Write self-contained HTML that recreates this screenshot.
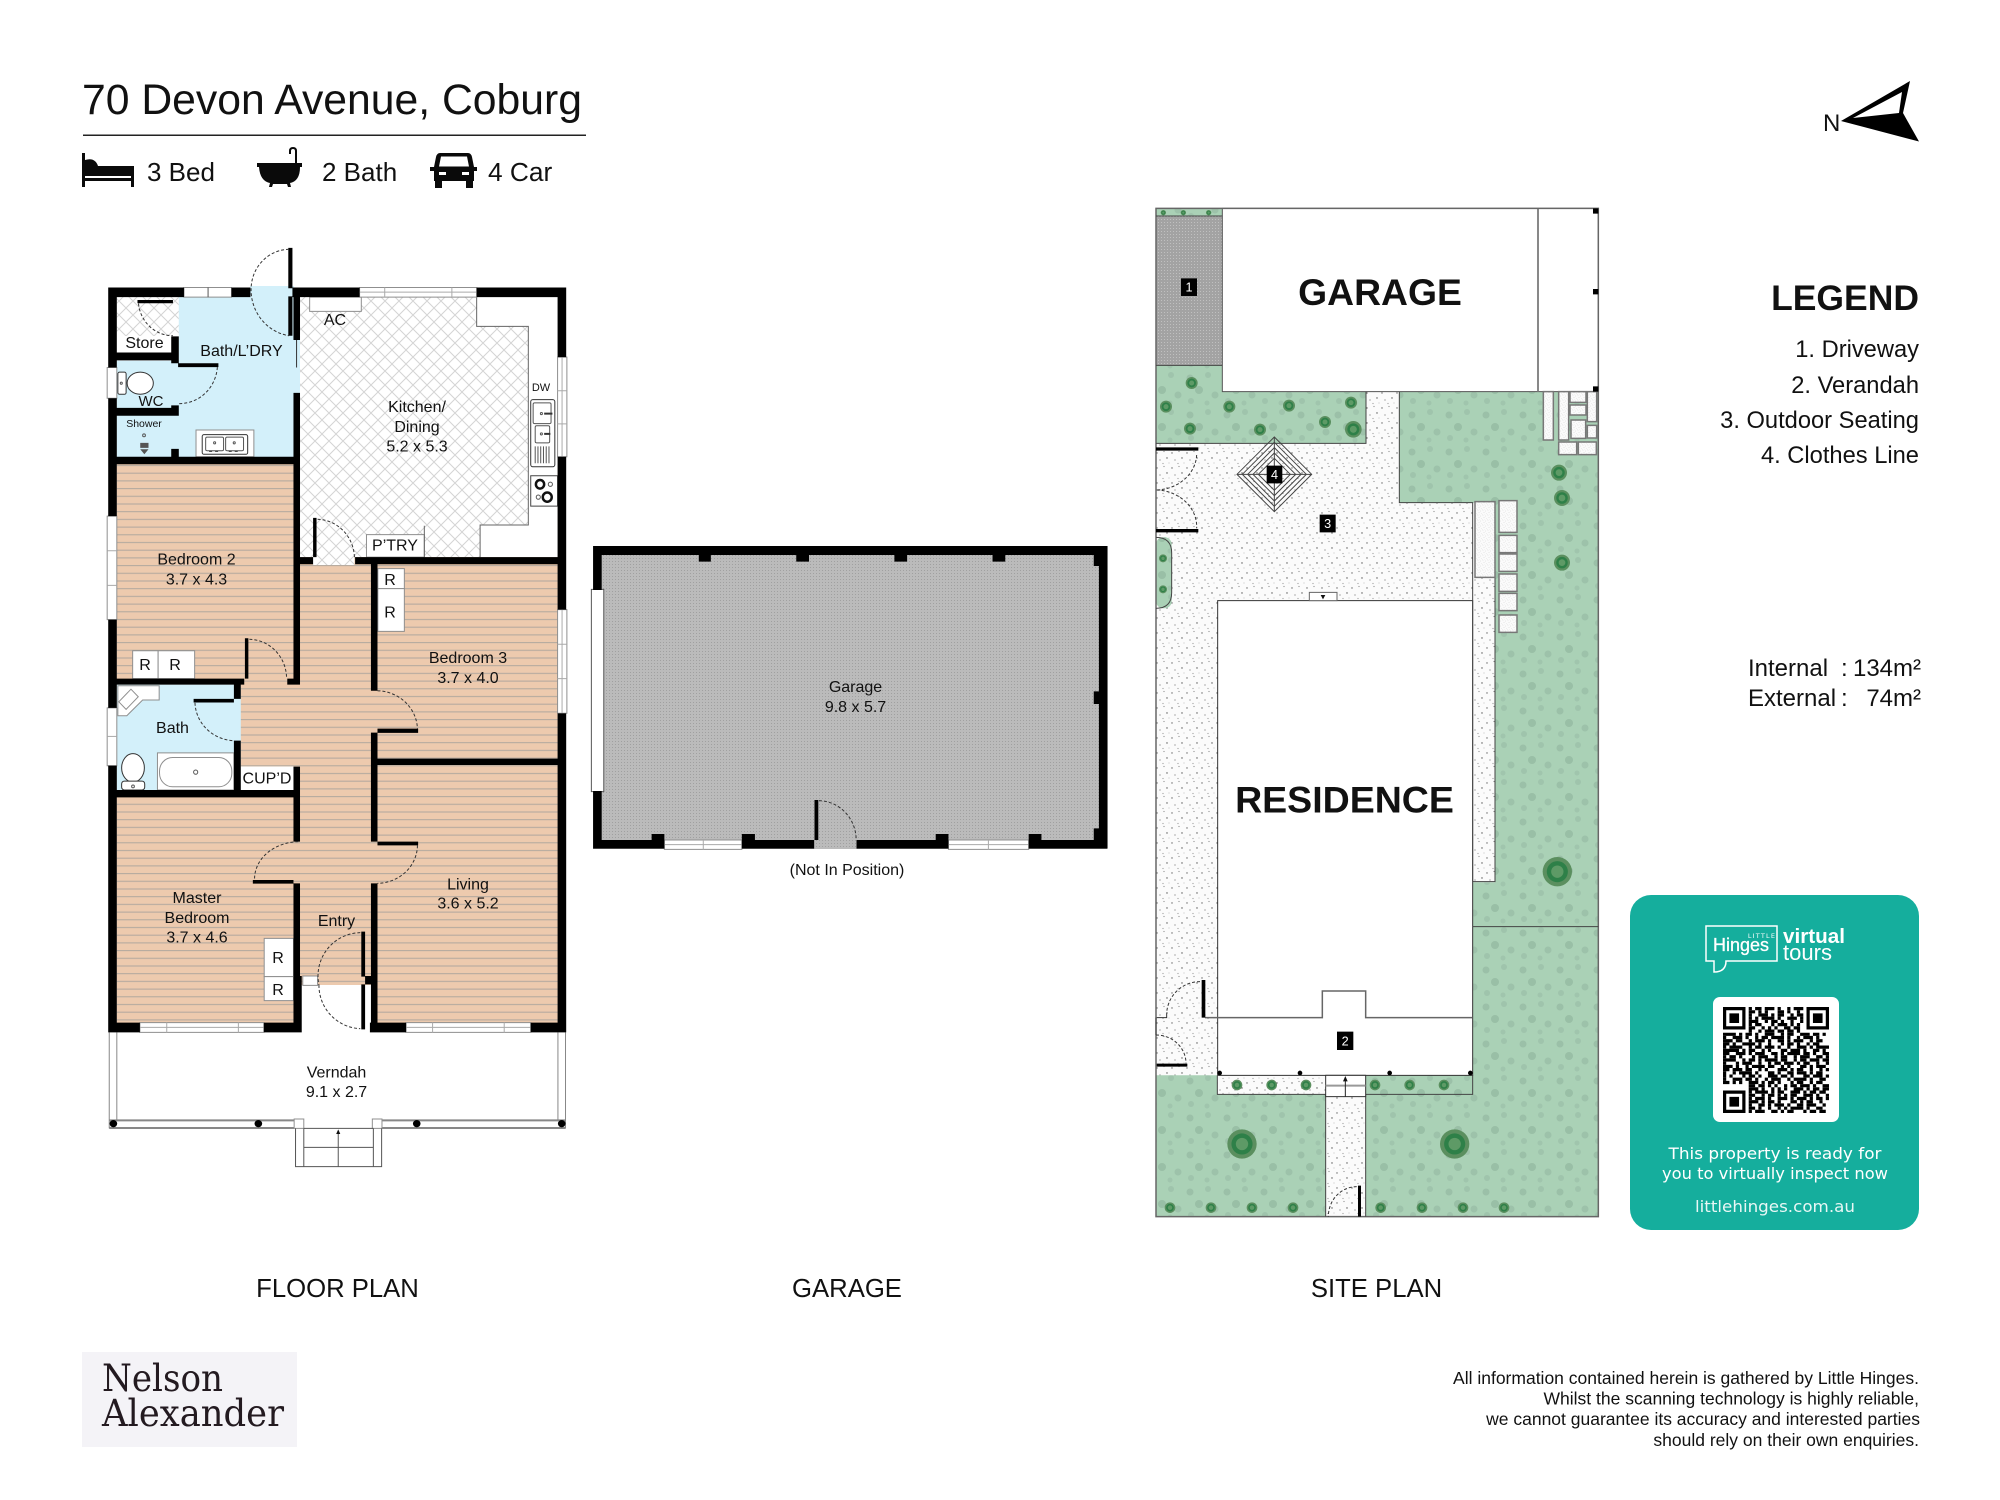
<!DOCTYPE html>
<html><head><meta charset="utf-8"><style>
html,body{margin:0;padding:0;background:#fff}
svg{display:block}
text{font-family:"Liberation Sans",sans-serif;fill:#111}
.ns path,.ns rect,.ns line,.ns ellipse,.ns circle,.ns polygon{vector-effect:non-scaling-stroke}
.l{font-size:16px;text-anchor:middle}
.d{fill:none;stroke:#333;stroke-width:1;stroke-dasharray:3 2}
.w{fill:#fff;stroke:#8f8f8f;stroke-width:1}
.k{fill:none;stroke:#555;stroke-width:1}
.m{font-size:25.700px;text-anchor:middle}
.r{text-anchor:end}
.t{fill:#fff;font-family:"DejaVu Sans",sans-serif;text-anchor:middle}
.h{fill:#fff;stroke:#fff;stroke-width:.3}
.n{fill:#fff;font-size:38px;text-anchor:middle}
</style></head><body>
<svg xmlns="http://www.w3.org/2000/svg" width="2000" height="1500" viewBox="0 0 2000 1500">
<defs>
<pattern id="wood" patternUnits="userSpaceOnUse" width="8" height="7.7"><rect width="8" height="7.7" fill="#EDCAAE"/><rect y="3" width="8" height="1" fill="#B0A79E"/></pattern>
<pattern id="tile" patternUnits="userSpaceOnUse" width="14" height="14"><rect width="14" height="14" fill="#fff"/><path d="M0 0L14 14M14 0L0 14" stroke="#D4D4D4" stroke-width="1"/></pattern>
<pattern id="gar" patternUnits="userSpaceOnUse" width="3" height="3"><rect width="3" height="3" fill="#BBBBBB"/><rect width="1" height="1" fill="#A0A0A0"/></pattern>
<pattern id="grass" patternUnits="userSpaceOnUse" width="37" height="37"><rect width="37" height="37" fill="#AAD1B6"/><circle cx="6" cy="8" r="3.500" fill="#9BC0A8"/><circle cx="24" cy="5" r="3" fill="#9FC4AC"/><circle cx="15" cy="20" r="4" fill="#99BFA6"/><circle cx="31" cy="25" r="3.500" fill="#9DC2AA"/><circle cx="7" cy="31" r="3" fill="#9FC4AC"/><circle cx="23" cy="33" r="2.500" fill="#A0C5AD"/></pattern>
<pattern id="grav" patternUnits="userSpaceOnUse" width="15" height="15"><rect width="15" height="15" fill="#FBFBFB"/><circle cx="2" cy="3" r=".7" fill="#666"/><circle cx="9" cy="1.500" r=".6" fill="#888"/><circle cx="12" cy="8" r=".7" fill="#555"/><circle cx="5" cy="10" r=".6" fill="#777"/><circle cx="8" cy="13.500" r=".6" fill="#999"/><circle cx="14" cy="13" r=".5" fill="#aaa"/></pattern>
<pattern id="dr" patternUnits="userSpaceOnUse" width="3" height="3"><rect width="3" height="3" fill="#A3A3A3"/><rect width="1" height="1" fill="#C0C0C0"/></pattern>
<g id="tr"><circle r="1" fill="#5B8F5F"/><circle r=".72" fill="#2E8048"/><circle r=".42" fill="#5E9A66"/></g>
</defs>
<rect width="2000" height="1500" fill="#fff"/>

<!-- Header -->
<text x="82" y="114" font-size="42.700">70 Devon Avenue, Coburg</text>
<rect x="83" y="134.500" width="503" height="1.500" fill="#222"/>
<g fill="#0a0a0a">
<path d="M82 153h3v13h49v21h-3v-6H85v6h-3zM85 160q10-3 13 6H85zM85 176h46v2H85z" fill-rule="evenodd"/>
<path d="M257 163h45v4h-2q0 14-10 16l1 4h-3l-1-3h-14l-1 3h-3l1-4q-10-2-11-16h-2zM297 163V151q0-4-4-4t-4 4v3h2v-3q0-2 2-2t2 2v12z"/>
<path fill-rule="evenodd" d="M440 153H468Q471 153 472 157L474 167H477V171H474V181H473V188H466V181H442V188H435V181H434V171H430V167H434L436 157Q437 153 440 153ZM441 156.500L439 166.500H469L467 156.500ZM439 172h7v3h-7zM462 172h7v3h-7z"/>
</g>
<text x="147" y="181" font-size="26">3 Bed</text>
<text x="322" y="181" font-size="26">2 Bath</text>
<text x="488" y="181" font-size="26.300">4 Car</text>

<!-- Compass -->
<text x="1823" y="131" font-size="24">N</text>
<path d="M1841 121L1910 81L1903 113L1919 141.500Z" fill="#000"/><path d="M1853 118L1902 92L1899 113Z" fill="#fff"/>

<!-- FLOOR PLAN FILLS -->
<rect x="116.800" y="464" width="441" height="559" fill="url(#wood)"/>
<polygon fill="url(#tile)" points="300,297 476.700,297 476.700,326.400 528.300,326.400 528.300,525 480,525 480,557 354.400,557 354.400,565 313,565 313,557 300,557"/>
<rect x="476.700" y="297" width="81" height="29.400" fill="#fff"/>
<rect x="528.300" y="326" width="29.400" height="231" fill="#fff"/>
<rect x="480" y="525" width="78" height="32" fill="#fff"/>
<rect x="116.800" y="297" width="62" height="39.400" fill="url(#tile)"/>
<rect x="116.800" y="336" width="62" height="16" fill="#fff"/>
<path d="M178.800 297H300V457H116.800V360.700H178.800Z" fill="#D3F0FA"/>
<rect x="250" y="286" width="44" height="12" fill="#D3F0FA"/>
<rect x="116.800" y="684.600" width="124" height="106" fill="#D3F0FA"/>
<rect x="300" y="985" width="72" height="51" fill="#fff"/>
<rect x="240.800" y="766.500" width="52.800" height="24" fill="#fff"/>

<!-- g1 floor plan (upper) -->
<g class="ns" transform="translate(60,240) scale(.34435,.35714)">
<g class="k" stroke="#777">
<rect class="w" x="725" y="160" width="150" height="40"/>
<rect class="w" x="890" y="825" width="168" height="63"/>
<path d="M1058 800V888M1210 160V242H1360V798H1220V888" stroke="#666" fill="none"/>
<rect class="w" x="923" y="920" width="77" height="56"/><rect class="w" x="923" y="976" width="77" height="120"/>
<rect class="w" x="211" y="1150" width="74" height="78"/><rect class="w" x="285" y="1150" width="106" height="78"/>
<rect class="w" x="525" y="1475" width="153" height="65" style="stroke:none"/>
<path class="w" d="M168 1248H288V1288H240L194 1332H168Z"/>
<rect class="w" x="174" y="1271" width="50" height="30" transform="rotate(-45 199 1286)"/>
<rect class="w" x="283" y="1436" width="222" height="104"/>
<rect class="w" x="289" y="1449" width="210" height="82" rx="38"/><circle class="k" cx="394" cy="1490" r="6"/>
<ellipse class="w" cx="212" cy="1478" rx="33" ry="40" style="stroke:#333"/><rect class="w" x="179" y="1515" width="67" height="25" rx="8" style="stroke:#333"/><circle class="k" cx="212" cy="1530" r="4"/>
<rect class="w" x="168" y="370" width="24" height="62" rx="5" style="stroke:#333"/><ellipse class="w" cx="233" cy="401" rx="38" ry="31" style="stroke:#333"/><circle class="k" cx="178" cy="401" r="3"/>
<rect class="w" x="395" y="532" width="168" height="75"/><rect class="w" x="413" y="545" width="132" height="55" rx="5" style="stroke:#333"/><rect class="k" x="423" y="552" width="52" height="38" rx="4"/><rect class="k" x="481" y="552" width="52" height="38" rx="4"/><circle class="k" cx="449" cy="568" r="3"/><circle class="k" cx="506" cy="568" r="3"/><path d="M433 592h32M490 592h32" stroke="#333" stroke-dasharray="3 3"/>
<rect class="w" x="1367" y="447" width="70" height="188" rx="6" style="stroke:#333"/><rect class="k" x="1374" y="456" width="52" height="58" rx="4"/><rect class="k" x="1380" y="520" width="42" height="48" rx="4"/><path class="k" d="M1380 578V625M1388 578V625M1396 578V625M1404 578V625M1412 578V625M1420 578V625"/><circle class="k" cx="1398" cy="486" r="3"/><circle class="k" cx="1398" cy="543" r="3"/><path d="M1406 486h24M1406 543h18" stroke="#333" stroke-width="2"/>
<rect class="w" x="1367" y="660" width="78" height="85" style="stroke:#444"/><circle class="k" cx="1394" cy="684" r="12" stroke-width="3" style="stroke:#111;stroke-width:2.500"/><circle class="k" cx="1424" cy="684" r="6"/><circle class="k" cx="1389" cy="720" r="6"/><circle class="k" cx="1415" cy="720" r="13" style="stroke:#111;stroke-width:2.500"/>
<circle class="k" cx="244" cy="547" r="4"/><path d="M233 568h24v14h-24zM233 586h24l-12 14z" fill="#555" stroke="none"/>
<!-- windows -->
<rect class="w" x="360" y="133" width="138" height="27"/><path class="k" stroke="#999" d="M430 133V160"/>
<rect class="w" x="870" y="133" width="340" height="27"/><path class="k" d="M943 133V160M1138 133V160M870 146H1210" style="stroke:#aaa"/>
<rect class="w" x="137" y="357" width="28" height="86"/>
<rect class="w" x="137" y="773" width="28" height="290"/><path class="k" d="M137 870H165M137 967H165" style="stroke:#aaa"/>
<rect class="w" x="137" y="1310" width="28" height="162"/><path class="k" d="M137 1390H165" style="stroke:#aaa"/>
<rect class="w" x="1445" y="328" width="27" height="279"/><path class="k" d="M1445 422H1472M1445 515H1472M1458 328V607" style="stroke:#aaa"/>
<rect class="w" x="1445" y="1035" width="27" height="290"/><path class="k" d="M1445 1132H1472M1445 1228H1472M1458 1035V1325" style="stroke:#aaa"/>
<path d="M687 280V357" stroke="#333" fill="none"/>
</g>
<path fill="#000" d="M140 133h220v27h-220zM498 133h55v27h-55zM675 133h195v27h-195zM1210 133h260v27h-260zM140 133h25v224h-25zM140 443h25v330h-25zM140 1063h25v247h-25zM1445 133h25v195h-25zM1445 607h25v428h-25zM140 315h205v22h-205zM323 270h22v75h-22zM225 168h103v9h-103zM343 345h117v11h-117zM165 470h180v22h-180zM323 463h22v29h-22zM323 585h22v22h-22zM140 607h557v21h-557zM678 133h19v147h-19zM678 428h19v817h-19zM663 22h12v113h-12zM663 158h12v110h-12zM697 888h38v20h-38zM857 888h613v20h-613zM735 778h10v110h-10zM903 908h19v354h-19zM922 1368h118v12h-118zM140 1228h395v17h-395zM505 1245h20v40h-20zM537 1115h10v113h-10zM660 1228h37v17h-37zM388 1285h117v10h-117z"/>
<g class="d">
<path d="M665 26A112 112 0 0 0 555 135"/><path d="M555 135A130 130 0 0 0 665 268"/>
<path d="M228 178A100 100 0 0 0 328 268"/>
<path d="M457 356A110 110 0 0 1 345 458"/>
<path d="M748 782A110 110 0 0 1 855 888"/>
<path d="M550 1118A110 110 0 0 1 658 1228"/>
<path d="M922 1262A120 110 0 0 1 1038 1368"/>
<path d="M392 1296A118 110 0 0 0 505 1402"/>
</g>
</g>

<!-- g2 floor plan (lower) -->
<g class="ns" transform="translate(60,700) scale(.34435,.33333)">
<rect class="w" x="593" y="715" width="85" height="115"/><rect class="w" x="593" y="830" width="85" height="72"/>
<rect class="w" x="705" y="828" width="43" height="28"/>
<rect class="w" x="232" y="968" width="360" height="29"/><path class="k" d="M310 968V997M518 968V997M232 982H592" style="stroke:#aaa"/>
<rect class="w" x="1005" y="968" width="362" height="29"/><path class="k" d="M1082 968V997M1290 968V997M1005 982H1367" style="stroke:#aaa"/>
<path class="k" d="M143 997V1285M165 997V1260M1446 997V1260M1468 997V1285" style="stroke:#888"/>
<path d="M143 1261H680M143 1284H680M935 1261H1468M935 1284H1468" fill="none" stroke="#888" stroke-width="2"/>
<rect class="w" x="680" y="1257" width="28" height="28"/><rect class="w" x="907" y="1257" width="28" height="28"/>
<path class="k" d="M684 1285V1400H934V1285M708 1285V1400M910 1285V1400M708 1342H910M708 1285H910M808 1295V1400"/>
<path d="M808 1288l-6 14h12z" fill="#111"/>
<g fill="#000"><circle cx="155" cy="1271" r="11"/><circle cx="576" cy="1271" r="11"/><circle cx="1036" cy="1271" r="11"/><circle cx="1457" cy="1271" r="11"/></g>
<path fill="#000" d="M140 197h25v800h-25zM1445 40h25v957h-25zM505 122h20v148h-20zM678 200h19v225h-19zM140 270h557v22h-557zM560 540h118v11h-118zM678 550h19v280h-19zM678 828h24v169h-24zM903 98h19v327h-19zM905 176h565v19h-565zM922 425h118v11h-118zM903 550h19v447h-19zM140 968h92v29h-92zM592 968h110v29h-110zM900 968h105v29h-105zM1367 968h103v29h-103zM875 695h11v135h-11zM875 853h11v135h-11zM886 828h19v25h-19z"/>
<g class="d">
<path d="M692 425A130 112 0 0 0 565 540"/>
<path d="M1038 436A118 115 0 0 1 922 550"/>
<path d="M872 698A125 130 0 0 0 752 855"/>
<path d="M752 855A125 130 0 0 0 872 986"/>
</g>
</g>

<g>
<text class="l" x="335" y="325">AC</text>
<text class="l" x="144.500" y="348">Store</text>
<text class="l" x="241.500" y="356">Bath/L’DRY</text>
<text class="l" x="151" y="406" style="font-size:15px">WC</text>
<text class="l" x="144" y="427" style="font-size:10.500px">Shower</text>
<text class="l" x="541" y="391" style="font-size:11px">DW</text>
<text class="l" x="417" y="412">Kitchen/</text>
<text class="l" x="417" y="432">Dining</text>
<text class="l" x="417" y="451.500">5.2 x 5.3</text>
<text class="l" x="395" y="550.500">P’TRY</text>
<text class="l" x="196.500" y="564.500">Bedroom 2</text>
<text class="l" x="196.500" y="584.500">3.7 x 4.3</text>
<text class="l" x="390" y="585">R</text><text class="l" x="390" y="617.500">R</text>
<text class="l" x="145" y="670">R</text><text class="l" x="175" y="670">R</text>
<text class="l" x="468" y="663">Bedroom 3</text>
<text class="l" x="468" y="683">3.7 x 4.0</text>
<text class="l" x="172.500" y="733">Bath</text>
<text class="l" x="267" y="783.500">CUP’D</text>
<text class="l" x="197" y="903">Master</text>
<text class="l" x="197" y="923">Bedroom</text>
<text class="l" x="197" y="942.500">3.7 x 4.6</text>
<text class="l" x="468" y="889.500">Living</text>
<text class="l" x="468" y="908.500">3.6 x 5.2</text>
<text class="l" x="336.500" y="926">Entry</text>
<text class="l" x="278" y="963">R</text><text class="l" x="278" y="995">R</text>
<text class="l" x="336.500" y="1077.500">Verndah</text>
<text class="l" x="336.500" y="1097">9.1 x 2.7</text>
</g>

<!-- Garage -->
<rect x="593" y="546" width="514" height="303" fill="url(#gar)"/>
<g class="ns" transform="translate(580,530) scale(.34435,.33333)">
<rect x="33" y="178" width="36" height="607" fill="#fff" stroke="#555"/>
<rect class="w" x="245" y="930" width="225" height="28"/><path class="k" d="M358 930V958M245 944H470" style="stroke:#aaa"/>
<rect class="w" x="1070" y="930" width="233" height="28"/><path class="k" d="M1186 930V958M1070 944H1303" style="stroke:#aaa"/>
<path fill="#000" d="M38 48h1494v27h-1494zM38 48h25v132h-25zM38 783h25v173h-25zM1507 48h25v908h-25zM38 930h207v26h-207zM470 930h210v26h-210zM803 930h267v26h-267zM1303 930h229v26h-229zM345 75h35v20h-35zM628 75h37v20h-37zM913 75h37v20h-37zM1198 75h37v20h-37zM1492 75h15v33h-15zM1492 484h15v38h-15zM1492 895h15v35h-15zM208 912h37v18h-37zM470 912h38v18h-38zM1033 912h37v18h-37zM1303 912h37v18h-37zM681 810h11v120h-11z"/>
<path class="d" d="M694 812A110 118 0 0 1 802 930"/>
</g>
<text class="l" x="855.500" y="692">Garage</text>
<text class="l" x="855.500" y="712">9.8 x 5.7</text>
<text class="l" x="847" y="875">(Not In Position)</text>

<!-- Site plan (zoom coords) -->
<rect x="1156" y="208" width="442" height="1009" fill="url(#grav)"/>
<polygon fill="url(#grass)" points="1156,365 1222,365 1222,391.700 1366,391.700 1366,443.300 1156,443.300"/>
<rect x="1156" y="208" width="66" height="8" fill="url(#grass)"/>
<rect x="1156" y="216" width="66" height="149.300" fill="url(#dr)"/>
<polygon fill="url(#grass)" points="1399.300,391.700 1598,391.700 1598,1216.700 1365.700,1216.700 1365.700,1094.700 1472.700,1094.700 1472.700,882.300 1495,882.300 1495,502.700 1399.300,502.700"/>
<polygon fill="url(#grass)" points="1156,1075.300 1217.300,1075.300 1217.300,1094.300 1325.700,1094.300 1325.700,1216.700 1156,1216.700"/>
<rect x="1365.700" y="1075.300" width="107" height="20" fill="url(#grass)"/>
<rect x="1156" y="537.300" width="15.700" height="71" rx="7" fill="url(#grass)"/>
<g class="ns" transform="translate(1150,200) scale(.33333)">
<rect x="217" y="25" width="1128" height="550" fill="#fff" stroke="#555" stroke-width="1"/>
<path d="M1164 25V575" stroke="#888" stroke-width="2" fill="none"/>
<rect x="203" y="1202" width="765" height="1424" fill="#fff" stroke="#333" stroke-width="1"/>
<path d="M18 25H1345V3050H18Z" fill="none" stroke="#666" stroke-width="1.500"/>
<path d="M18 48H217M18 496H217M18 730H648V575M748 575V908H968V2045M968 2045H1035V908M968 2180H1345M647 2683H968V2626M202 2626V2683H527V3050M647 2683V3050M527 2626H647" fill="none" stroke="#444" stroke-width="1"/>
<path d="M18 1012q47 0 47 47v119q0 47-47 47" fill="none" stroke="#444" stroke-width="1"/>
<path d="M165 2453H517V2373H647V2453H968" fill="none" stroke="#666" stroke-width="1.500"/>
<rect x="527" y="2626" width="120" height="64" fill="#fff" stroke="#333" stroke-width="1"/><path d="M527 2657H647" stroke="#999" stroke-width="2"/>
<path d="M586 2640V2690" stroke="#222"/><path d="M586 2628l-7 16h14z" fill="#111"/>
<rect x="478" y="1177" width="83" height="25" fill="#fff" stroke="#666" stroke-width="1"/><path d="M519 1198l-7-13h14z" fill="#111"/>
<g fill="url(#grav)" stroke="#777" stroke-width="1.500">
<rect x="1180" y="575" width="30" height="145"/><rect x="1226" y="575" width="30" height="145"/><rect x="1260" y="575" width="48" height="32"/><rect x="1260" y="615" width="48" height="30"/><rect x="1312" y="575" width="28" height="90"/><rect x="1263" y="660" width="44" height="55"/><rect x="1312" y="676" width="28" height="38"/><rect x="1226" y="726" width="54" height="38"/><rect x="1285" y="726" width="54" height="38"/>
<rect x="975" y="905" width="60" height="227"/><rect x="1047" y="902" width="54" height="95"/><rect x="1047" y="1006" width="54" height="52"/><rect x="1047" y="1062" width="54" height="52"/><rect x="1047" y="1122" width="54" height="52"/><rect x="1047" y="1180" width="54" height="52"/><rect x="1047" y="1245" width="54" height="52"/>
</g>
<path fill="#000" d="M1329 25h16v16h-16zM1329 267h16v16h-16zM1329 559h16v16h-16zM18 742h127v10h-127zM18 987h127v10h-127zM155 2340h11v113h-11zM20 2591h92v9h-92zM624 2957h9v93h-9z"/>
<g fill="#000"><circle cx="209" cy="2619" r="7"/><circle cx="450" cy="2619" r="7"/><circle cx="719" cy="2619" r="7"/><circle cx="961" cy="2619" r="7"/></g>
<g class="d" stroke="#444">
<path d="M140 765A125 110 0 0 1 20 870"/><path d="M20 870A125 110 0 0 1 140 985"/>
<path d="M150 2345A100 100 0 0 0 50 2440"/><path d="M18 2505A90 85 0 0 1 108 2590"/><path d="M620 2960A85 90 0 0 0 535 3050"/>
<path d="M20 2453H50V2440M18 2453V2505" style="stroke-dasharray:none"/>
</g>
<g fill="none" stroke="#444" stroke-width="1">
<path d="M373 711L485 823L373 935L261 823Z"/><path d="M373 727L469 823L373 919L277 823Z"/><path d="M373 743L453 823L373 903L293 823Z"/><path d="M373 759L437 823L373 887L309 823Z"/><path d="M373 775L421 823L373 871L325 823Z"/><path d="M373 711V935M261 823H485"/>
</g>
<g>
<use href="#tr" transform="translate(125,549) scale(18)"/><use href="#tr" transform="translate(48,620) scale(18)"/><use href="#tr" transform="translate(238,620) scale(18)"/><use href="#tr" transform="translate(417,617) scale(18)"/><use href="#tr" transform="translate(603,608) scale(18)"/><use href="#tr" transform="translate(120,686) scale(18)"/><use href="#tr" transform="translate(330,689) scale(18)"/><use href="#tr" transform="translate(525,666) scale(18)"/><use href="#tr" transform="translate(610,688) scale(25)"/>
<use href="#tr" transform="translate(40,38) scale(8)"/><use href="#tr" transform="translate(100,38) scale(8)"/><use href="#tr" transform="translate(176,38) scale(8)"/>
<use href="#tr" transform="translate(1227,818) scale(24)"/><use href="#tr" transform="translate(1236,894) scale(24)"/><use href="#tr" transform="translate(1236,1088) scale(24)"/>
<use href="#tr" transform="translate(39,1075) scale(12)"/><use href="#tr" transform="translate(39,1168) scale(12)"/>
<use href="#tr" transform="translate(1222,2015) scale(44)"/><use href="#tr" transform="translate(276,2832) scale(44)"/><use href="#tr" transform="translate(914,2832) scale(44)"/>
<use href="#tr" transform="translate(261,2655) scale(16)"/><use href="#tr" transform="translate(365,2655) scale(16)"/><use href="#tr" transform="translate(468,2655) scale(16)"/><use href="#tr" transform="translate(675,2655) scale(16)"/><use href="#tr" transform="translate(779,2655) scale(16)"/><use href="#tr" transform="translate(882,2655) scale(16)"/>
<use href="#tr" transform="translate(60,3023) scale(16)"/><use href="#tr" transform="translate(183,3023) scale(16)"/><use href="#tr" transform="translate(306,3023) scale(16)"/><use href="#tr" transform="translate(429,3023) scale(16)"/><use href="#tr" transform="translate(692,3023) scale(16)"/><use href="#tr" transform="translate(816,3023) scale(16)"/><use href="#tr" transform="translate(939,3023) scale(16)"/><use href="#tr" transform="translate(1062,3023) scale(16)"/>
</g>
<path fill="#000" d="M93 235h48v53h-48zM350 797h47v53h-47zM509 944h48v53h-48zM561 2495h49v55h-49z"/>
<text class="n" x="117" y="275">1</text><text class="n" x="373.500" y="837">4</text><text class="n" x="533" y="984">3</text><text class="n" x="585.500" y="2537">2</text>
</g>
<text x="1380" y="305" font-size="37.300" font-weight="700" text-anchor="middle" fill="#000">GARAGE</text>
<text x="1344.500" y="812.500" font-size="37.500" font-weight="700" text-anchor="middle" fill="#000">RESIDENCE</text>

<!-- captions -->
<text class="m" x="337.500" y="1297">FLOOR PLAN</text>
<text class="m" x="847" y="1297">GARAGE</text>
<text class="m" x="1376.500" y="1297">SITE PLAN</text>

<!-- Legend -->
<text class="r" x="1919" y="310" font-size="35.500" font-weight="700" fill="#000">LEGEND</text>
<text class="r" x="1919" y="357" font-size="23.700">1. Driveway</text>
<text class="r" x="1919" y="393" font-size="23.700">2. Verandah</text>
<text class="r" x="1919" y="428" font-size="23.700">3. Outdoor Seating</text>
<text class="r" x="1919" y="463" font-size="23.700">4. Clothes Line</text>
<text x="1748" y="676" font-size="24">Internal</text><text x="1841" y="676" font-size="24">:</text><text class="r" x="1921" y="676" font-size="24">134m²</text>
<text x="1748" y="706" font-size="24">External</text><text x="1841" y="706" font-size="24">:</text><text class="r" x="1921" y="706" font-size="24">74m²</text>

<!-- Teal card -->
<rect x="1630" y="895" width="289" height="335" rx="21" fill="#15AE9D"/>
<path d="M1706 926H1777V961H1726Q1726 972 1714 972V961H1706Z" fill="none" stroke="#fff" stroke-width="1.500"/>
<text class="t" x="1762" y="938" font-size="6.500" letter-spacing="1.200">LITTLE</text>
<text x="1741" y="951" font-size="18.500" text-anchor="middle" textLength="56" lengthAdjust="spacingAndGlyphs" class="h">Hinges</text>
<text x="1783" y="943" font-size="20.600" font-weight="700" textLength="62" lengthAdjust="spacingAndGlyphs" style="fill:#fff">virtual</text>
<text x="1783" y="960" font-size="22" textLength="49" lengthAdjust="spacingAndGlyphs" style="fill:#fff">tours</text>
<rect x="1713" y="997" width="126" height="125" rx="7" fill="#fff"/>
<g transform="translate(1723,1007) scale(3.212)" stroke="#000" stroke-width="1" fill="none">
<path stroke-dasharray="1 1 2 1 3 1 1 2 1 1 3 2 1 1 2" d="M8 .5H25"/>
<path stroke-dasharray="2 1 1 1 1 3 2 1 1 2 1" d="M8 1.500H25"/>
<path stroke-dasharray="1 2 3 1 1 1 2 2 1 1 2" d="M8 2.500H25"/>
<path stroke-dasharray="1 1 1 1 4 1 1 2 3 1" d="M8 3.500H25"/>
<path stroke-dasharray="3 2 1 1 2 1 1 2 1 2" d="M8 4.500H25"/>
<path stroke-dasharray="1 1 2 3 1 1 3 1 1 1" d="M8 5.500H25"/>
<path stroke-dasharray="2 2 1 1 1 1 1 2 2 1 2" d="M8 6.500H25"/>
<path stroke-dasharray="1 2 1 1 3 1 2 1 2 1" d="M8 7.500H25"/>
<path stroke-dasharray="4 1 1 1 2 1 1 2 3 2 1 1 2 2 3 1 2 1 1" d="M0 8.500H33"/>
<path stroke-dasharray="1 2 3 1 1 2 1 1 2 1 4 1 1 2 1 1 3 1 1 3" d="M0 9.500H33"/>
<path stroke-dasharray="3 1 2 2 1 1 3 1 1 2 2 1 1 1 3 2 1 1 2 2" d="M0 10.500H33"/>
<path stroke-dasharray="2 1 1 2 4 1 1 2 1 3 1 1 2 1 1 2 1 1 2 3" d="M0 11.500H33"/>
<path stroke-dasharray="1 1 4 2 1 1 2 1 3 1 1 2 1 2 3 1 1 1 4" d="M0 12.500H33"/>
<path stroke-dasharray="5 1 1 1 2 2 1 1 1 3 2 1 3 1 1 2 2 1 1 2" d="M0 13.500H33"/>
<path stroke-dasharray="2 2 3 1 1 1 3 2 2 1 1 1 4 1 2 1 1 2 2" d="M0 14.500H33"/>
<path stroke-dasharray="1 1 2 1 1 3 1 1 3 2 1 1 2 2 1 1 3 2 2 1" d="M0 15.500H33"/>
<path stroke-dasharray="4 2 1 1 2 1 1 1 4 1 2 2 1 1 2 1 3 1 2" d="M0 16.500H33"/>
<path stroke-dasharray="1 3 1 1 3 2 1 2 1 1 2 1 3 1 1 1 2 2 1 2" d="M0 17.500H33"/>
<path stroke-dasharray="3 1 1 2 1 1 4 1 2 2 1 1 1 3 2 1 1 1 3" d="M0 18.500H33"/>
<path stroke-dasharray="2 1 3 1 2 2 1 1 1 3 3 1 1 1 2 2 1 2 1 1" d="M0 19.500H33"/>
<path stroke-dasharray="1 2 1 1 4 1 1 3 2 1 1 2 2 1 3 1 1 1 2 2" d="M0 20.500H33"/>
<path stroke-dasharray="1 1 1 3 1 1 2 1 1 2 3 1 2 1 1 3 2 1 3" d="M0 21.500H33"/>
<path stroke-dasharray="1 2 3 1 2 1 1 2 1 1 3 2 1 1 4 1 1 2 2" d="M0 22.500H33"/>
<path stroke-dasharray="2 1 1 1 1 2 3 1 1 1 2 1 1 3 1 1 2 2 1 1 2" d="M0 23.500H33"/>
<path stroke-dasharray="2 1 2 1 1 1 1 2 1 1 2 1 3 1 1 2" d="M8 24.500H33"/>
<path stroke-dasharray="3 1 1 2 1 1 1 1 1 2 3 1 1 1 2 1" d="M8 25.500H33"/>
<path stroke-dasharray="1 1 4 1 1 1 2 2 3 1 1 1 2 1 2" d="M8 26.500H33"/>
<path stroke-dasharray="2 2 1 1 2 1 1 1 1 1 2 2 3 1 1 2" d="M8 27.500H33"/>
<path stroke-dasharray="1 1 3 1 1 2 3 1 1 1 3 1 1 1 2" d="M8 28.500H33"/>
<path stroke-dasharray="3 1 1 1 2 1 1 3 2 1 1 1 2 2 1" d="M8 29.500H33"/>
<path stroke-dasharray="1 2 2 1 1 1 3 1 1 2 2 1 3 2" d="M8 30.500H33"/>
<path stroke-dasharray="2 1 1 2 1 2 1 1 1 1 4 1 1 2 2" d="M8 31.500H33"/>
<path stroke-dasharray="1 1 3 2 2 1 1 1 2 3 1 1 2 1 2" d="M8 32.500H33"/>
<path fill="#000" stroke="none" fill-rule="evenodd" d="M0 0h7v7H0zM1 1v5h5V1zM2 2h3v3H2zM26 0h7v7h-7zM27 1v5h5V1zM28 2h3v3h-3zM0 26h7v7H0zM1 27v5h5v-5zM2 28h3v3H2z"/>
</g>
<text class="t" x="1775" y="1159" font-size="16" textLength="213" lengthAdjust="spacingAndGlyphs">This property is ready for</text>
<text class="t" x="1775" y="1179" font-size="16" textLength="226" lengthAdjust="spacingAndGlyphs">you to virtually inspect now</text>
<text class="t" x="1775" y="1212" font-size="16" textLength="160" lengthAdjust="spacingAndGlyphs" fill-opacity=".9">littlehinges.com.au</text>

<!-- Logo -->
<rect x="82" y="1352" width="215" height="95" fill="#F4F3F7"/>
<text x="102" y="1391" font-size="37" textLength="121" lengthAdjust="spacingAndGlyphs" style="font-family:'DejaVu Serif',serif;fill:#231A20">Nelson</text>
<text x="102" y="1426" font-size="37" textLength="182" lengthAdjust="spacingAndGlyphs" style="font-family:'DejaVu Serif',serif;fill:#231A20">Alexander</text>

<!-- Disclaimer -->
<text class="r" x="1919" y="1384" font-size="17.500">All information contained herein is gathered by Little Hinges.</text>
<text class="r" x="1919" y="1404.500" font-size="17.500">Whilst the scanning technology is highly reliable,</text>
<text class="r" x="1920" y="1425" font-size="17.500">we cannot guarantee its accuracy and interested parties</text>
<text class="r" x="1919" y="1446" font-size="17.500">should rely on their own enquiries.</text>
</svg>
</body></html>
